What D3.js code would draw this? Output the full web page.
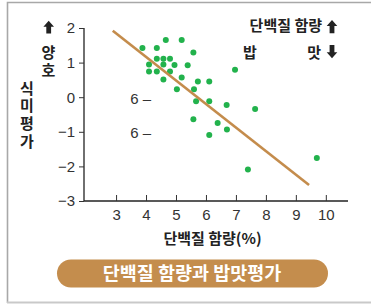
<!DOCTYPE html>
<html><head><meta charset="utf-8">
<script src="https://cdn.jsdelivr.net/npm/d3@7/dist/d3.min.js"></script>
<style>
html,body{margin:0;padding:0;background:#fff;}
svg{display:block;}
</style></head>
<body>
<svg id="c" width="371" height="307"></svg>
<script>
// Data
const proteinX = [3.88,4.36,4.66,5.19,5.58,4.36,4.58,4.80,4.10,4.58,4.95,5.39,4.10,4.36,4.80,5.19,4.58,5.03,5.73,6.11,5.60,6.97,5.67,6.11,6.69,7.64,5.58,6.39,6.70,6.11,7.40,9.70];
const tasteY  = [1.42,1.42,1.65,1.65,1.29,1.11,1.11,1.11,0.945,0.945,0.93,0.925,0.746,0.746,0.746,0.57,0.51,0.23,0.457,0.457,0.23,0.79,-0.12,-0.12,-0.225,-0.34,-0.636,-0.743,-0.93,-1.09,-2.09,-1.76];
const trendX = [2.89, 9.44];
const trendY = [1.92, -2.54];
const xTicks = [3,4,5,6,7,8,9,10];
const yTicks = [2,1,0,-1,-2,-3];
const strayLabelY = [0,-1];

const svg = d3.select('#c');
const NUM = "'Liberation Sans', Arial, sans-serif";
const KR = "'Noto Sans CJK KR', sans-serif";

// frame
svg.append('path').attr('d','M7.5,303 L7.5,2.5 L371,2.5').attr('fill','none').attr('stroke','#a8a8a8').attr('stroke-width',1.6);
svg.append('rect').attr('x',7).attr('y',301.5).attr('width',364).attr('height',2).attr('fill','#c9c9c9');

const x = d3.scaleLinear().domain([1.93,10.74]).range([84,348]);
const y = d3.scaleLinear().domain([-3,2]).range([201,28]);

// y axis
const yAxis = svg.append('g').attr('transform','translate(84,0)')
  .call(d3.axisLeft(y).tickValues(yTicks).tickSize(5).tickPadding(4).tickFormat(d=> d<0 ? '\u2212'+Math.abs(d) : d));
yAxis.select('.domain').attr('stroke','#222').attr('stroke-width',1.3).attr('d','M0,'+y(2)+'V'+y(-3));
yAxis.selectAll('line').attr('stroke','#333').attr('stroke-width',1);
yAxis.selectAll('text').attr('font-family',NUM).attr('font-size',15).attr('fill','#333');

// x axis
const xAxis = svg.append('g').attr('transform','translate(0,201)')
  .call(d3.axisBottom(x).tickValues(xTicks).tickSize(0).tickPadding(8.5));
xAxis.select('.domain').attr('stroke','#222').attr('stroke-width',1.5).attr('d','M84,0H348');
xAxis.selectAll('.tick line').attr('y1',0).attr('y2',-6).attr('stroke','#333').attr('stroke-width',1);
xAxis.selectAll('text').attr('font-family',NUM).attr('font-size',15).attr('fill','#333');

// stray labels "6 –"
svg.selectAll('.stray').data(strayLabelY).enter().append('text')
  .attr('x',151).attr('y',d=>y(d)+6.3).attr('text-anchor','end')
  .attr('font-family',NUM).attr('font-size',15).attr('fill','#333').text('6 \u2013');

// points
svg.selectAll('.pt').data(proteinX.map((v,i)=>[v,tasteY[i]])).enter().append('circle')
  .attr('cx',d=>x(d[0])).attr('cy',d=>y(d[1])).attr('r',3).attr('fill','#22b24c');

// trend line
svg.append('line').attr('x1',x(trendX[0])).attr('y1',y(trendY[0])).attr('x2',x(trendX[1])).attr('y2',y(trendY[1]))
  .attr('stroke','#c48c4c').attr('stroke-width',2.6);

// arrows
function upArrow(cx, top, h){
  const w=10.6, hw=w/2, sh=2.4, headH=6;
  return `M${cx},${top} L${cx+hw},${top+headH} L${cx+sh},${top+headH} L${cx+sh},${top+h} L${cx-sh},${top+h} L${cx-sh},${top+headH} L${cx-hw},${top+headH} Z`;
}
function downArrow(cx, top, h){
  const w=10.6, hw=w/2, sh=2.4, headH=6, b=top+h;
  return `M${cx},${b} L${cx+hw},${b-headH} L${cx+sh},${b-headH} L${cx+sh},${top} L${cx-sh},${top} L${cx-sh},${b-headH} L${cx-hw},${b-headH} Z`;
}
svg.append('path').attr('d',upArrow(48.7,20.7,12.7)).attr('fill','#222');
svg.append('path').attr('d',upArrow(332,20,13.3)).attr('fill','#222');
svg.append('path').attr('d',downArrow(332,45,13.3)).attr('fill','#222');

// Korean labels
const lab = (t,xx,yy,anchor,size)=>svg.append('text').attr('x',xx).attr('y',yy).attr('text-anchor',anchor||'middle')
  .attr('font-family',KR).attr('font-weight',700).attr('font-size',size||15).attr('fill','#222').text(t);
const vlab = (t,xx,yy,ls)=>svg.append('text').attr('x',xx).attr('y',yy)
  .style('writing-mode','vertical-rl').style('text-orientation','upright').style('letter-spacing',ls+'px')
  .attr('font-family',KR).attr('font-weight',700).attr('font-size',15).attr('fill','#222').text(t);
vlab('양호',48.5,44.5,3);
vlab('식미평가',27,80.5,2.7);
lab('단백질 함량',322,30.5,'end');
lab('밥',250,57.5);
lab('맛',321,57.5,'end');
lab('단백질 함량(%)',212.5,243.5);

// banner
svg.append('rect').attr('x',57).attr('y',259.5).attr('width',271).attr('height',28).attr('rx',14).attr('fill','#c48d4d');
svg.append('text').attr('x',192).attr('y',280).attr('text-anchor','middle').attr('font-family',KR).attr('font-weight',700)
  .attr('font-size',18.5).attr('fill','#fff').text('단백질 함량과 밥맛평가');
</script>
</body></html>
